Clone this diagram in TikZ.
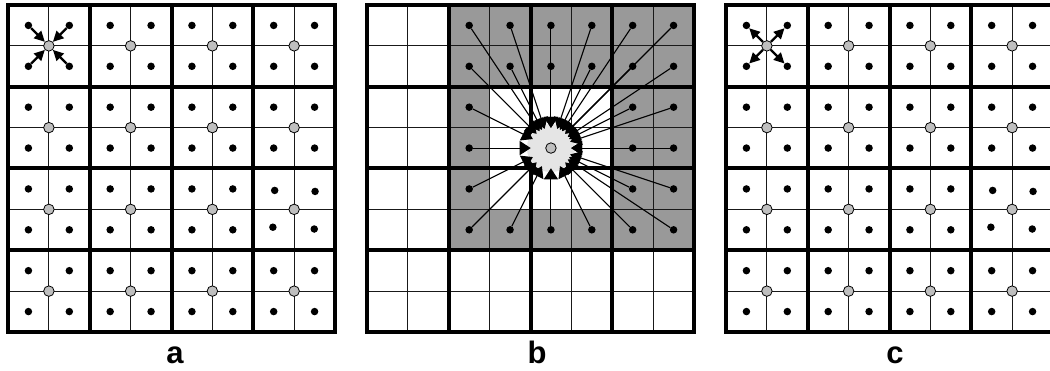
\documentclass[tikz,border=0pt]{standalone}
\usepackage{fontspec}
\setmainfont{Liberation Sans}
\usetikzlibrary{arrows.meta}
\def\sz{81.75}
\def\fz{40.875}
\newcommand\panelgrid[1]{%
  \foreach \k in {1,3,5,7} {
    \draw[thinl] ({#1+\k*\fz},5) -- ({#1+\k*\fz},332);
    \draw[thinl] (#1,{5+\k*\fz}) -- ({#1+327},{5+\k*\fz});
  }
  \foreach \k in {1,2,3} {
    \draw[thickl] ({#1+\k*\sz},5) -- ({#1+\k*\sz},332);
    \draw[thickl] (#1,{5+\k*\sz}) -- ({#1+327},{5+\k*\sz});
  }
  \draw[thickl] (#1,5) rectangle ({#1+327},332);
}
\newcommand\paneldots[2]{%
  \foreach \i in {0,...,7} {
    \foreach \j in {0,...,7} {
      \pgfmathtruncatemacro\skipit{and(\i>5,and(\j>3,\j<6))}
      \ifnum\skipit=0
        \node[dot] (#1-d-\i-\j) at ({#2+(\i+0.5)*\fz},{5+(\j+0.5)*\fz}) {};
      \fi
    }
  }
  \node[dot] (#1-d-6-4) at ({#2+6.5*\fz+1},{5+4.5*\fz+1.5}) {};
  \node[dot] (#1-d-7-4) at ({#2+7.5*\fz+0.5},{5+4.5*\fz+2.5}) {};
  \node[dot] (#1-d-6-5) at ({#2+6.5*\fz-0.8},{5+5.5*\fz-2.6}) {};
  \node[dot] (#1-d-7-5) at ({#2+7.5*\fz-0.3},{5+5.5*\fz-0.8}) {};
  \foreach \I in {0,...,3} {
    \foreach \J in {0,...,3} {
      \node[gcirc] (#1-g-\I-\J) at ({#2+(\I+0.5)*\sz},{5+(\J+0.5)*\sz}) {};
    }
  }
}
\begin{document}
\begin{tikzpicture}[x=1pt,y=-1pt,
  thinl/.style={line width=1.2pt, black!90},
  thickl/.style={line width=4pt, black, line cap=rect},
  dot/.style={circle, fill=black, inner sep=0pt, minimum size=7.5pt},
  gcirc/.style={circle, draw=black, line width=0.8pt, fill=black!25, inner sep=0pt, minimum size=10.5pt},
  arr/.style={line width=2.4pt, -{Triangle[length=10.5pt,width=10pt]}},
  ray/.style={line width=1.1pt, -{Triangle[length=11pt,width=14pt]}, shorten >=-4pt},
  grayfill/.style={fill=black!40},
  lbl/.style={font=\bfseries\fontsize{31}{31}\selectfont, anchor=base, inner sep=0pt}]
\useasboundingbox (0,0) rectangle (1050,371);

% ---------- panel a ----------
\panelgrid{8}
\paneldots{a}{8}
\foreach \i/\j in {0/0,1/0,0/1,1/1}
  \draw[arr] (a-d-\i-\j) -- (a-g-0-0);
\node[lbl] (la) at (175,364) {a};

% ---------- panel b ----------
\fill[grayfill] ({367+2*\fz},5) rectangle ({367+8*\fz},{5+6*\fz});
\fill[white] ({367+3*\fz},{5+2*\fz}) rectangle ({367+6*\fz},{5+5*\fz});
\panelgrid{367}
\node[circle, fill=black!10, draw=none, inner sep=0pt, minimum size=48pt] (bc) at ({367+4.5*\fz},{5+3.5*\fz}) {};
\foreach \i in {2,...,7} {
  \foreach \j in {0,...,5} {
    \pgfmathtruncatemacro\inside{and(and(\i>2,\i<6),and(\j>1,\j<5))}
    \ifnum\inside=0
      \node[dot] (b-d-\i-\j) at ({367+(\i+0.5)*\fz},{5+(\j+0.5)*\fz}) {};
      \draw[ray] (b-d-\i-\j) -- (bc);
    \fi
  }
}
\node[gcirc] (b-g) at (bc.center) {};
\node[lbl] (lb) at (537,364) {b};

% ---------- panel c ----------
\panelgrid{726}
\paneldots{c}{726}
\foreach \i/\j in {0/0,1/0,0/1,1/1}
  \draw[arr] (c-g-0-0) -- (c-d-\i-\j);
\node[lbl] (lc) at (895,364) {c};
\end{tikzpicture}
\end{document}
